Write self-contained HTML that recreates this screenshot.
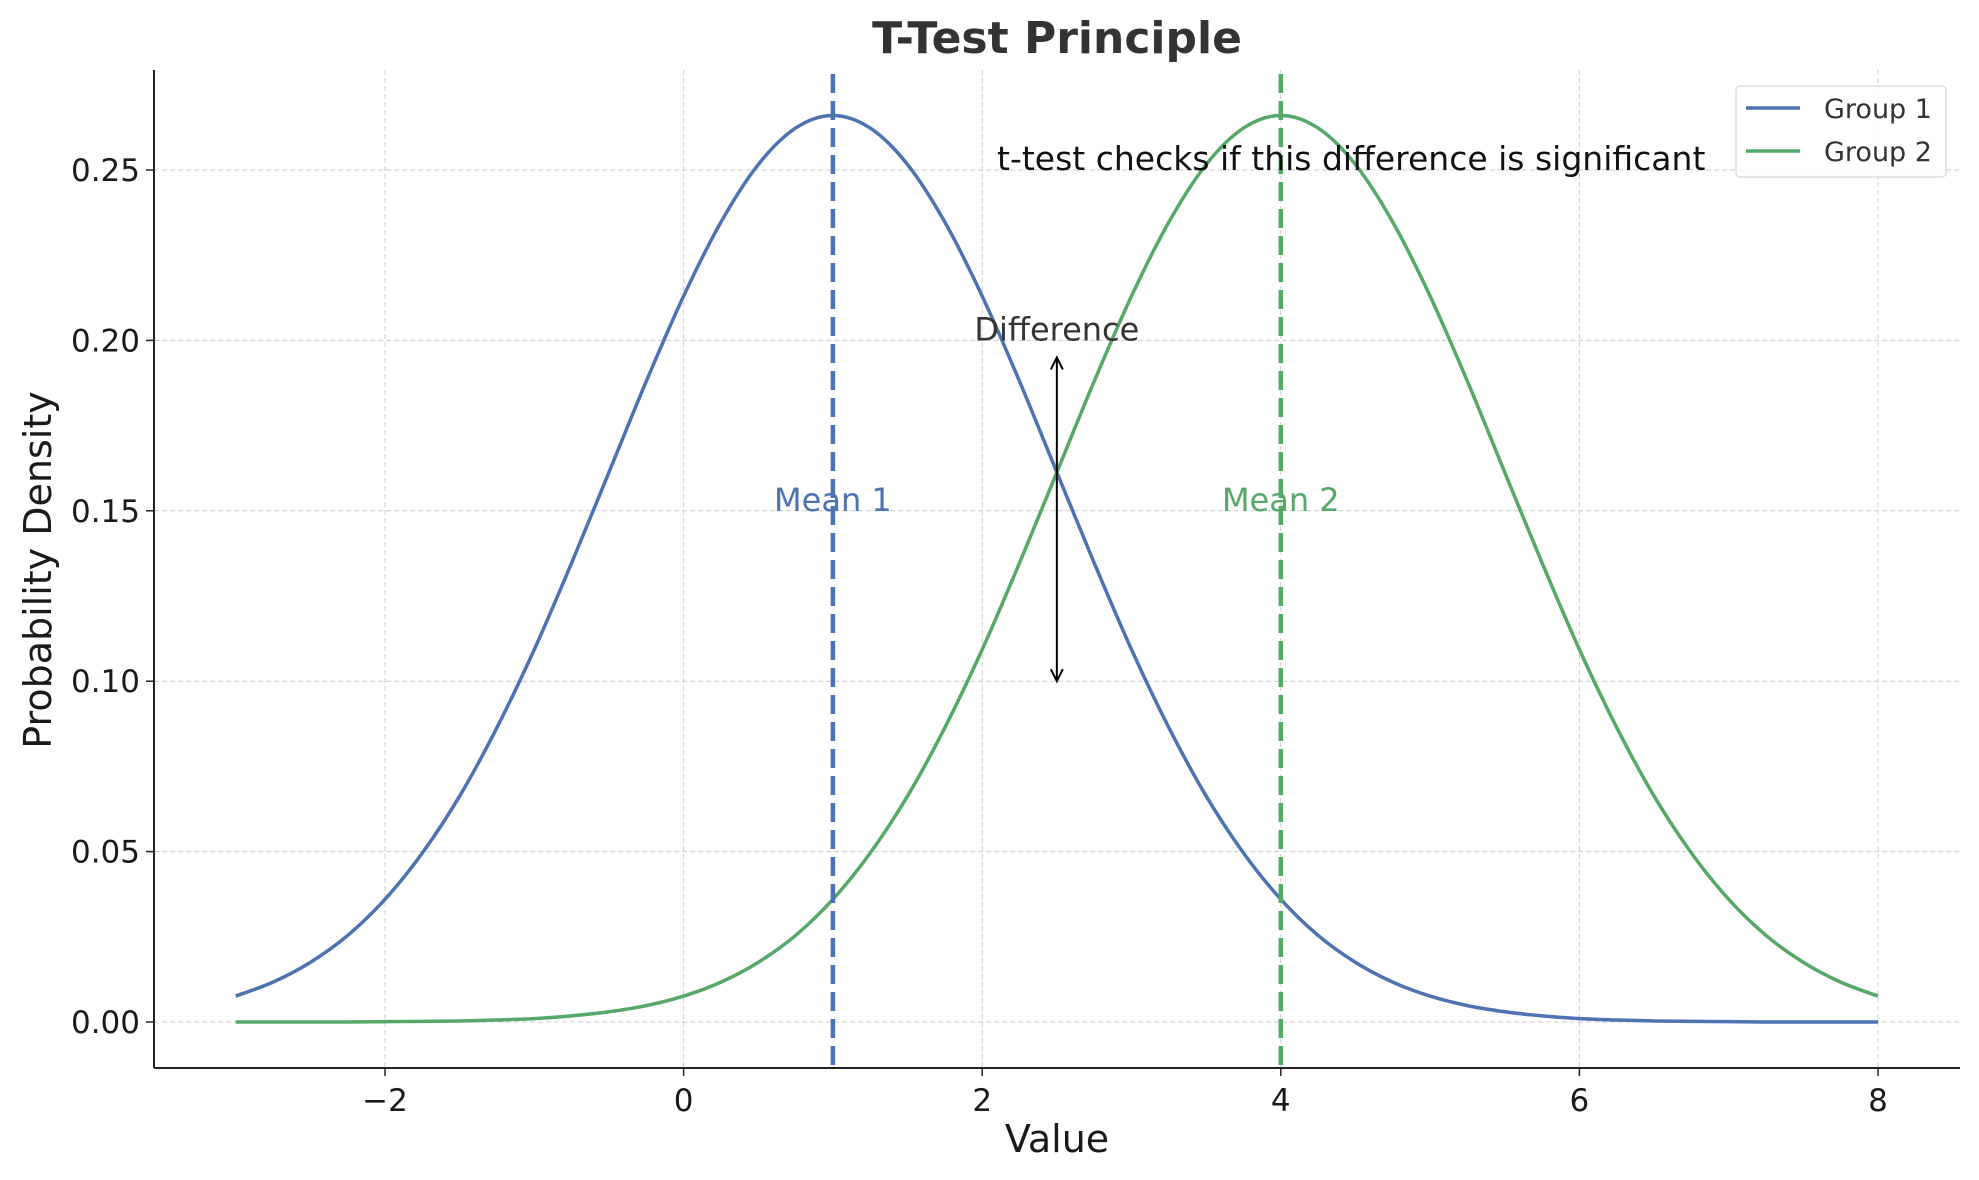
<!DOCTYPE html>
<html><head><meta charset="utf-8"><style>
html,body{margin:0;padding:0;background:#fff}
svg{display:block;font-family:"DejaVu Sans","Liberation Sans",sans-serif}
</style></head><body>
<svg id="chart" width="1979" height="1180" viewBox="0 0 1979 1180">
<g id="grid"></g>
<g id="series"></g>
<g id="axes"></g>
<text x="1057" y="53" text-anchor="middle" font-size="44" font-weight="bold" fill="#333">T-Test Principle</text>
<text x="1057" y="1152" text-anchor="middle" font-size="38" fill="#1a1a1a">Value</text>
<text transform="translate(51,570) rotate(-90)" text-anchor="middle" font-size="38" fill="#1a1a1a">Probability Density</text>
<g>
<rect x="1736" y="86" width="210" height="91" rx="4" fill="#fff" fill-opacity="0.8" stroke="#ccc"/>
<line x1="1746" y1="108" x2="1800" y2="108" stroke="#4C72B0" stroke-width="3.5"/>
<text x="1824" y="118" font-size="27" fill="#333">Group 1</text>
<line x1="1746" y1="151" x2="1800" y2="151" stroke="#55A868" stroke-width="3.5"/>
<text x="1824" y="161" font-size="27" fill="#333">Group 2</text>
</g>
</svg>
<script>
const xValues=[-3,-2.75,-2.5,-2.25,-2,-1.75,-1.5,-1.25,-1,-0.75,-0.5,-0.25,0,0.25,0.5,0.75,1,1.25,1.5,1.75,2,2.25,2.5,2.75,3,3.25,3.5,3.75,4,4.25,4.5,4.75,5,5.25,5.5,5.75,6,6.25,6.5,6.75,7,7.25,7.5,7.75,8];
const group1=[0.0076,0.0117,0.0175,0.0254,0.0360,0.0496,0.0663,0.0864,0.1093,0.1347,0.1613,0.1880,0.2130,0.2347,0.2516,0.2623,0.266,0.2623,0.2516,0.2347,0.2130,0.1880,0.1613,0.1347,0.1093,0.0864,0.0663,0.0496,0.0360,0.0254,0.0175,0.0117,0.0076,0.0048,0.0030,0.0018,0.0010,0.0006,0.0003,0.0002,0.0001,0.0000,0.0000,0.0000,0.0000];
const group2=[0.0000,0.0000,0.0000,0.0000,0.0001,0.0002,0.0003,0.0006,0.0010,0.0018,0.0030,0.0048,0.0076,0.0117,0.0175,0.0254,0.0360,0.0496,0.0663,0.0864,0.1093,0.1347,0.1613,0.1880,0.2130,0.2347,0.2516,0.2623,0.266,0.2623,0.2516,0.2347,0.2130,0.1880,0.1613,0.1347,0.1093,0.0864,0.0663,0.0496,0.0360,0.0254,0.0175,0.0117,0.0076];
const means=[1,4];
const xTicks=[-2,0,2,4,6,8];
const xTickLabels=["\u22122","0","2","4","6","8"];
const yTicks=[0,0.05,0.10,0.15,0.20,0.25];
const yTickLabels=["0.00","0.05","0.10","0.15","0.20","0.25"];
const diffX=2.5, diffTop=0.195, diffBottom=0.10;

const NS="http://www.w3.org/2000/svg";
const L=154,R=1960,T=70,B=1068;
const sx=v=>683.6+v*149.3;
const sy=v=>1022-v*3408;
function mk(tag,attrs,parent){const e=document.createElementNS(NS,tag);for(const k in attrs)e.setAttribute(k,attrs[k]);parent.appendChild(e);return e;}
const grid=document.getElementById('grid'),series=document.getElementById('series'),axes=document.getElementById('axes');

xTicks.forEach((t,i)=>{
 const g=mk('line',{x1:sx(t),x2:sx(t),y1:T,y2:B,stroke:'#ccc','stroke-width':1,'stroke-dasharray':'5,3'},grid);
 
 
 const tk=mk('line',{x1:sx(t),x2:sx(t),y1:B,y2:B+8,stroke:'#222','stroke-width':1.5},axes);
 
 
 const lb=mk('text',{x:sx(t),y:B+43,'text-anchor':'middle','font-size':31,fill:'#1a1a1a'},axes);
 lb.textContent=xTickLabels[i];
 
 
});
yTicks.forEach((t,i)=>{
 const g=mk('line',{x1:L,x2:R,y1:sy(t),y2:sy(t),stroke:'#ccc','stroke-width':1,'stroke-dasharray':'5,3'},grid);
 
 
 const tk=mk('line',{x1:L-8,x2:L,y1:sy(t),y2:sy(t),stroke:'#222','stroke-width':1.5},axes);
 
 
 const lb=mk('text',{x:L-14,y:sy(t)+11,'text-anchor':'end','font-size':31,fill:'#1a1a1a'},axes);
 lb.textContent=yTickLabels[i];
 
 
});
const ax1=mk('line',{x1:L,x2:L,y1:T,y2:B,stroke:'#222','stroke-width':2},axes);


const ax2=mk('line',{x1:L,x2:R,y1:B,y2:B,stroke:'#222','stroke-width':2},axes);



function smoothPath(xs,ys){
 const p=xs.map((x,i)=>[sx(x),sy(ys[i])]);
 let d='M'+p[0][0]+','+p[0][1];
 for(let i=0;i<p.length-1;i++){
  const p0=p[Math.max(i-1,0)],p1=p[i],p2=p[i+1],p3=p[Math.min(i+2,p.length-1)];
  const c1=[p1[0]+(p2[0]-p0[0])/6,p1[1]+(p2[1]-p0[1])/6];
  const c2=[p2[0]-(p3[0]-p1[0])/6,p2[1]-(p3[1]-p1[1])/6];
  d+=`C${c1[0]},${c1[1]} ${c2[0]},${c2[1]} ${p2[0]},${p2[1]}`;
 }
 return d;
}
const colors=['#4C72B0','#55A868'];
[group1,group2].forEach((s,k)=>{
 const p=mk('path',{d:smoothPath(xValues,s),fill:'none',stroke:colors[k],'stroke-width':3.5},series);
 
 
});
means.forEach((m,k)=>{
 const l=mk('line',{x1:sx(m),x2:sx(m),y1:T+4,y2:B,stroke:colors[k],'stroke-width':4.5,'stroke-dasharray':'19,8'},series);
 
 
 const t=mk('text',{x:sx(m),y:sy(0.15),'text-anchor':'middle','font-size':32,fill:colors[k]},series);
 t.textContent='Mean '+(k+1);
 
 
});
const ax=sx(diffX);
const a=mk('line',{x1:ax,x2:ax,y1:sy(diffTop),y2:sy(diffBottom),stroke:'#000','stroke-width':2},series);


const h1=mk('path',{d:`M${ax-6},${sy(diffTop)+12} L${ax},${sy(diffTop)} L${ax+6},${sy(diffTop)+12}`,fill:'none',stroke:'#000','stroke-width':2},series);


const h2=mk('path',{d:`M${ax-6},${sy(diffBottom)-12} L${ax},${sy(diffBottom)} L${ax+6},${sy(diffBottom)-12}`,fill:'none',stroke:'#000','stroke-width':2},series);


const dt=mk('text',{x:ax,y:sy(0.2),'text-anchor':'middle','font-size':32,fill:'#333'},series);
dt.textContent='Difference';


const at=mk('text',{x:997,y:sy(0.25),'font-size':33,fill:'#111'},series);
at.textContent='t-test checks if this difference is significant';


</script>
</body></html>
